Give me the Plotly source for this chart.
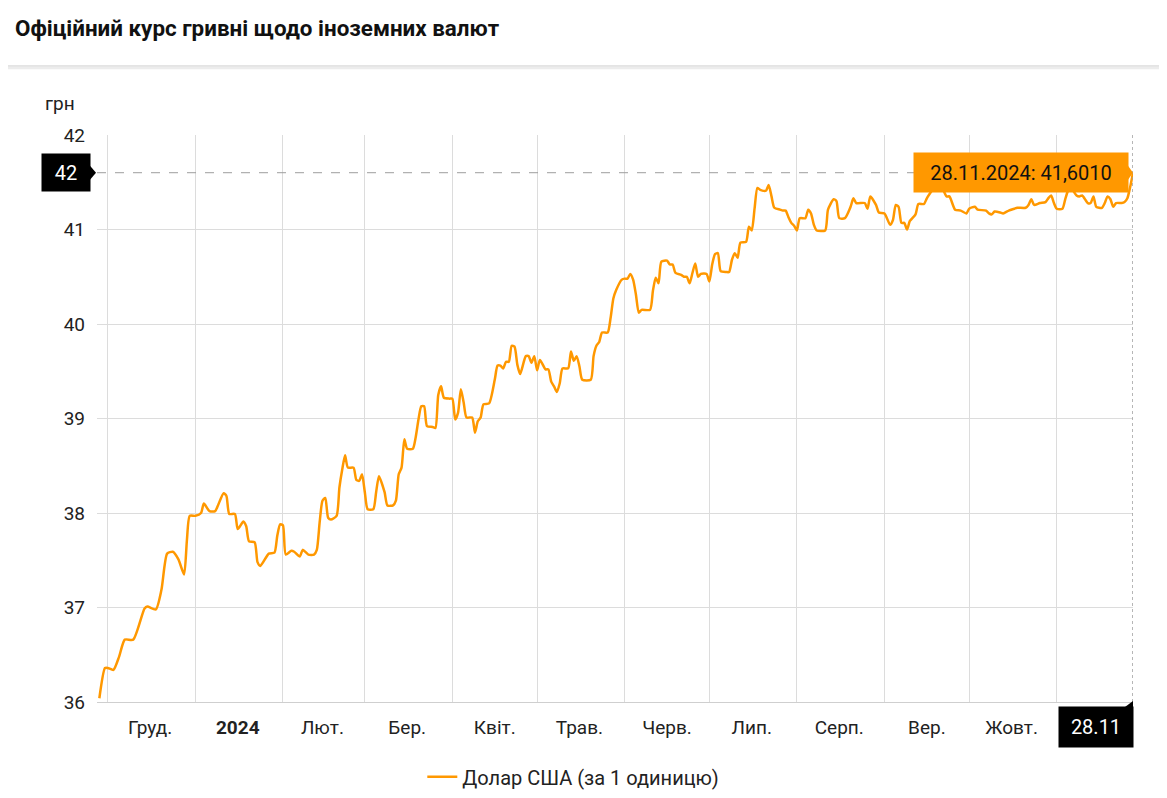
import plotly.graph_objects as go

# Official UAH / USD rate
dates = [
    "2023-11-28", "2023-11-30", "2023-12-01", "2023-12-03", "2023-12-05", "2023-12-07", "2023-12-10",
    "2023-12-14", "2023-12-15", "2023-12-18", "2023-12-20", "2023-12-22", "2023-12-24", "2023-12-26",
    "2023-12-28", "2023-12-29", "2023-12-30",
    "2024-01-01", "2024-01-03", "2024-01-04", "2024-01-06", "2024-01-08", "2024-01-09", "2024-01-11",
    "2024-01-12", "2024-01-13", "2024-01-15", "2024-01-16", "2024-01-18", "2024-01-19", "2024-01-20",
    "2024-01-22", "2024-01-23", "2024-01-24", "2024-01-27", "2024-01-29", "2024-01-30", "2024-01-31",
    "2024-02-01", "2024-02-02", "2024-02-04", "2024-02-05", "2024-02-07", "2024-02-08", "2024-02-10",
    "2024-02-12", "2024-02-13", "2024-02-14", "2024-02-15", "2024-02-16", "2024-02-17", "2024-02-18",
    "2024-02-20", "2024-02-21", "2024-02-22", "2024-02-23", "2024-02-24", "2024-02-26", "2024-02-27",
    "2024-02-28", "2024-02-29",
    "2024-03-01", "2024-03-02", "2024-03-04", "2024-03-05", "2024-03-06", "2024-03-08", "2024-03-09",
    "2024-03-11", "2024-03-12", "2024-03-13", "2024-03-14", "2024-03-15", "2024-03-16", "2024-03-18",
    "2024-03-19", "2024-03-20", "2024-03-21", "2024-03-22", "2024-03-23", "2024-03-25", "2024-03-26",
    "2024-03-27", "2024-03-28", "2024-03-29", "2024-03-31",
    "2024-04-01", "2024-04-02", "2024-04-03", "2024-04-04", "2024-04-05", "2024-04-06", "2024-04-08",
    "2024-04-09", "2024-04-10", "2024-04-11", "2024-04-12", "2024-04-14", "2024-04-16", "2024-04-17",
    "2024-04-18", "2024-04-19", "2024-04-20", "2024-04-21", "2024-04-22", "2024-04-23", "2024-04-24",
    "2024-04-25", "2024-04-27", "2024-04-28", "2024-04-29", "2024-04-30",
    "2024-05-01", "2024-05-02", "2024-05-04", "2024-05-05", "2024-05-06", "2024-05-07", "2024-05-08",
    "2024-05-09", "2024-05-10", "2024-05-12", "2024-05-13", "2024-05-14", "2024-05-15", "2024-05-16",
    "2024-05-17", "2024-05-20", "2024-05-21", "2024-05-22", "2024-05-23", "2024-05-24", "2024-05-26",
    "2024-05-27", "2024-05-28", "2024-05-29", "2024-05-31",
    "2024-06-01", "2024-06-02", "2024-06-03", "2024-06-04", "2024-06-05", "2024-06-06", "2024-06-07",
    "2024-06-10", "2024-06-11", "2024-06-12", "2024-06-13", "2024-06-14", "2024-06-16", "2024-06-17",
    "2024-06-18", "2024-06-19", "2024-06-21", "2024-06-22", "2024-06-23", "2024-06-24", "2024-06-25",
    "2024-06-26", "2024-06-27", "2024-06-28", "2024-06-30",
    "2024-07-01", "2024-07-02", "2024-07-03", "2024-07-04", "2024-07-05", "2024-07-07", "2024-07-08",
    "2024-07-09", "2024-07-10", "2024-07-11", "2024-07-12", "2024-07-14", "2024-07-15", "2024-07-16",
    "2024-07-17", "2024-07-18", "2024-07-19", "2024-07-21", "2024-07-22", "2024-07-23", "2024-07-24",
    "2024-07-26", "2024-07-27", "2024-07-28", "2024-07-29", "2024-07-30", "2024-07-31",
    "2024-08-01", "2024-08-02", "2024-08-04", "2024-08-05", "2024-08-06", "2024-08-07", "2024-08-08",
    "2024-08-11", "2024-08-12", "2024-08-14", "2024-08-15", "2024-08-16", "2024-08-18", "2024-08-20",
    "2024-08-21", "2024-08-22", "2024-08-25", "2024-08-26", "2024-08-27", "2024-08-29", "2024-08-30",
    "2024-09-01", "2024-09-03", "2024-09-04", "2024-09-05", "2024-09-06", "2024-09-07", "2024-09-08",
    "2024-09-09", "2024-09-10", "2024-09-12", "2024-09-13", "2024-09-15", "2024-09-16", "2024-09-18",
    "2024-09-19", "2024-09-21", "2024-09-23", "2024-09-24", "2024-09-26", "2024-09-28", "2024-09-30",
    "2024-10-01", "2024-10-03", "2024-10-04", "2024-10-07", "2024-10-08", "2024-10-09", "2024-10-10",
    "2024-10-12", "2024-10-13", "2024-10-15", "2024-10-17", "2024-10-18", "2024-10-21", "2024-10-22",
    "2024-10-23", "2024-10-24", "2024-10-26", "2024-10-28", "2024-10-29", "2024-10-30", "2024-10-31",
    "2024-11-01", "2024-11-03", "2024-11-04", "2024-11-05", "2024-11-06", "2024-11-08", "2024-11-09",
    "2024-11-10", "2024-11-12", "2024-11-13", "2024-11-14", "2024-11-15", "2024-11-17", "2024-11-18",
    "2024-11-19", "2024-11-20", "2024-11-21", "2024-11-22", "2024-11-24", "2024-11-25", "2024-11-26",
    "2024-11-27", "2024-11-28",
]
usd = [
    36.04, 36.36, 36.36, 36.34, 36.48, 36.66, 36.66,
    36.99, 37.01, 36.98, 37.19, 37.57, 37.59, 37.51,
    37.35, 37.71, 37.97,
    37.97, 38.00, 38.10, 38.02, 38.02, 38.08, 38.21,
    38.18, 37.99, 37.99, 37.83, 37.91, 37.86, 37.70,
    37.69, 37.48, 37.44, 37.57, 37.58, 37.76, 37.88,
    37.87, 37.56, 37.60, 37.59, 37.54, 37.61, 37.56,
    37.56, 37.61, 37.90, 38.13, 38.16, 37.95, 37.93,
    37.97, 38.27, 38.46, 38.61, 38.48, 38.48, 38.35,
    38.34, 38.41,
    38.22, 38.04, 38.04, 38.22, 38.39, 38.22, 38.08,
    38.08, 38.13, 38.41, 38.48, 38.78, 38.68, 38.68,
    38.80, 38.99, 39.13, 39.13, 38.92, 38.91, 38.90,
    39.25, 39.34, 39.22, 39.21,
    39.21, 38.99, 39.06, 39.31, 39.17, 39.01, 39.01,
    38.85, 38.97, 39.01, 39.15, 39.16, 39.41, 39.56,
    39.56, 39.53, 39.60, 39.60, 39.77, 39.76, 39.57,
    39.47, 39.66, 39.66, 39.59, 39.66,
    39.51, 39.62, 39.52, 39.52, 39.39, 39.34, 39.28,
    39.37, 39.53, 39.53, 39.71, 39.61, 39.66, 39.55,
    39.41, 39.41, 39.66, 39.77, 39.81, 39.91, 39.91,
    40.06, 40.27, 40.36, 40.47,
    40.48, 40.48, 40.53, 40.47, 40.31, 40.12, 40.15,
    40.15, 40.35, 40.49, 40.43, 40.66, 40.67, 40.63,
    40.63, 40.54, 40.52, 40.50, 40.50, 40.43, 40.54,
    40.64, 40.50, 40.53, 40.53,
    40.45, 40.63, 40.74, 40.75, 40.56, 40.55, 40.55,
    40.68, 40.75, 40.70, 40.86, 40.87, 41.03, 40.99,
    41.22, 41.44, 41.42, 41.41, 41.47, 41.35, 41.23,
    41.21, 41.20, 41.20, 41.13, 41.07, 41.04,
    40.99, 41.12, 41.12, 41.21, 41.17, 41.05, 40.99,
    40.99, 41.21, 41.32, 41.30, 41.12, 41.12, 41.24,
    41.33, 41.28, 41.28, 41.22, 41.35, 41.26, 41.18,
    41.17, 41.05, 41.10, 41.26, 41.24, 41.07, 41.07,
    41.00, 41.09, 41.16, 41.27, 41.27, 41.33, 41.42,
    41.46, 41.46, 41.35, 41.35, 41.21, 41.20, 41.17,
    41.22, 41.24, 41.21, 41.20, 41.17, 41.16, 41.19,
    41.18, 41.17, 41.20, 41.22, 41.23, 41.23, 41.26,
    41.32, 41.26, 41.28, 41.29, 41.33, 41.36, 41.28,
    41.22, 41.22, 41.32, 41.41, 41.44, 41.36, 41.35,
    41.36, 41.28, 41.28, 41.35, 41.24, 41.23, 41.28,
    41.35, 41.32, 41.24, 41.28, 41.28, 41.29, 41.33,
    41.45, 41.601,
]

# month labels, placed mid-month; grid lines at month starts
month_ticks = ["2023-12-16", "2024-01-16", "2024-02-15", "2024-03-16", "2024-04-16", "2024-05-16",
               "2024-06-16", "2024-07-16", "2024-08-16", "2024-09-16", "2024-10-16"]
month_labels = ["Груд.", "<b>2024</b>", "Лют.", "Бер.", "Квіт.", "Трав.",
                "Черв.", "Лип.", "Серп.", "Вер.", "Жовт."]
month_starts = ["2023-12-01", "2024-01-01", "2024-02-01", "2024-03-01", "2024-04-01", "2024-05-01",
                "2024-06-01", "2024-07-01", "2024-08-01", "2024-09-01", "2024-10-01", "2024-11-01"]

last_date = dates[-1]
last_val = usd[-1]

ORANGE = "#FF9800"
FONT = "Roboto, Arial, sans-serif"

fig = go.Figure()
fig.add_trace(go.Scatter(
    x=dates, y=usd, mode="lines", name="Долар США (за 1 одиницю)",
    line=dict(color=ORANGE, width=2.5, shape="spline", smoothing=0.6),
    hoverinfo="skip",
))

# crosshair at the last value
fig.add_shape(type="line", xref="paper", x0=0, x1=1, yref="y", y0=last_val, y1=last_val,
              line=dict(color="#9e9e9e", width=1, dash="dash"))
fig.add_shape(type="line", xref="x", x0=last_date, x1=last_date, yref="paper", y0=0, y1=1,
              line=dict(color="#9e9e9e", width=1.5, dash="dot"))

# tooltip
fig.add_annotation(x=last_date, y=last_val, xref="x", yref="y", xanchor="right", yanchor="middle",
                   xshift=-4, showarrow=False, text="28.11.2024: 41,6010", width=198, height=23,
                   font=dict(family=FONT, size=20, color="#111"),
                   bgcolor=ORANGE, borderpad=8)
fig.add_shape(type="path", xref="x", yref="y", xsizemode="pixel", ysizemode="pixel",
              xanchor=last_date, yanchor=last_val,
              path="M -5 -7 L 0 0 L -5 7 Z", fillcolor=ORANGE, line=dict(width=0))

# y value badge
fig.add_annotation(x=0, y=last_val, xref="paper", yref="y", xanchor="right", yanchor="middle",
                   xshift=-6, showarrow=False, text="42", width=34, height=23,
                   font=dict(family=FONT, size=20, color="white"), bgcolor="black", borderpad=7)
fig.add_shape(type="path", xref="paper", yref="y", xsizemode="pixel", ysizemode="pixel",
              xanchor=0, yanchor=last_val,
              path="M -7 -7 L -1 0 L -7 7 Z", fillcolor="black", line=dict(width=0))

# x value badge
fig.add_annotation(x=last_date, y=0, xref="x", yref="paper", xanchor="right", yanchor="top",
                   xshift=1, yshift=-4, showarrow=False, text="28.11", width=60, height=26,
                   font=dict(family=FONT, size=20, color="white"), bgcolor="black", borderpad=7)
fig.add_shape(type="path", xref="x", yref="paper", xsizemode="pixel", ysizemode="pixel",
              xanchor=last_date, yanchor=0,
              path="M -8 -5 L 0 1 L 1 -5 Z", fillcolor="black", line=dict(width=0))

# unit label
fig.add_annotation(x=-0.0357, y=1.0547, xref="paper", yref="paper", xanchor="center", yanchor="middle",
                   showarrow=False, text="грн", font=dict(family=FONT, size=19, color="#222"))

# header separator
fig.add_shape(type="rect", xref="paper", yref="paper", x0=-0.09, x1=1.04, y0=1.116, y1=1.122,
              fillcolor="#ececec", line=dict(width=0))
fig.add_shape(type="line", xref="paper", yref="paper", x0=-0.09, x1=1.04, y0=1.122, y1=1.122,
              line=dict(color="#dadada", width=1))

fig.update_layout(
    width=1159, height=790,
    margin=dict(l=89, r=34, t=127, b=96, autoexpand=False),
    paper_bgcolor="white", plot_bgcolor="white",
    font=dict(family=FONT, size=19, color="#222"),
    title=dict(text="<b>Офіційний курс гривні щодо іноземних валют</b>",
               x=0.006, xanchor="left", y=0.975, yanchor="middle",
               font=dict(family=FONT, size=22.4, color="#111")),
    showlegend=True,
    legend=dict(orientation="h", x=0.314, xanchor="left", y=-0.132, yanchor="middle",
                font=dict(family=FONT, size=20, color="#222")),
    xaxis=dict(
        type="date", range=["2023-11-27 04:00", "2024-11-28"],
        tickmode="array", tickvals=month_ticks, ticktext=month_labels,
        showgrid=False, ticks="", ticklabelstandoff=8,
        showline=True, linecolor="#cfcfcf", linewidth=1,
        minor=dict(tickmode="array", tickvals=month_starts, showgrid=True,
                   gridcolor="#dcdcdc", gridwidth=1, ticks=""),
        zeroline=False,
    ),
    yaxis=dict(
        range=[36, 42], dtick=1, showgrid=True, gridcolor="#dcdcdc", gridwidth=1,
        ticks="", ticklabelstandoff=11, zeroline=False, showline=False,
    ),
)

fig.write_html("out.html")
